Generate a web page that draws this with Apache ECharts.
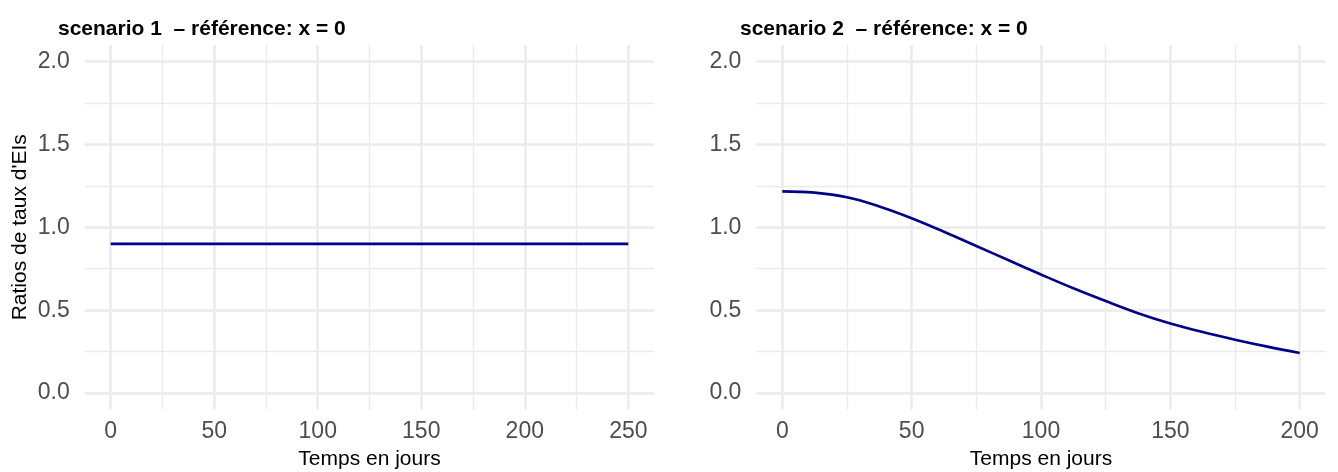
<!DOCTYPE html>
<html>
<head>
<meta charset="utf-8">
<script src="https://cdn.jsdelivr.net/npm/echarts@6/dist/echarts.min.js"></script>
<style>
  html, body { margin: 0; padding: 0; background: #ffffff; }
  #chart { width: 1338px; height: 472px; }
</style>
</head>
<body>
<div id="chart"></div>
<script>
// Scenario 1: constant ratio over 250 days
const days1 = [0, 50, 100, 150, 200, 250];
const ratio1 = [0.9, 0.9, 0.9, 0.9, 0.9, 0.9];

// Scenario 2: decreasing ratio over 200 days
const days2 = [0, 12.5, 25, 37.5, 50, 62.5, 75, 87.5, 100, 112.5, 125, 137.5, 150, 162.5, 175, 187.5, 200];
const ratio2 = [1.217, 1.209, 1.181, 1.126, 1.055, 0.973, 0.887, 0.801, 0.715, 0.632, 0.555, 0.482, 0.420, 0.368, 0.322, 0.280, 0.242];

// Tick values
const xMajor1 = [0, 50, 100, 150, 200, 250];
const xMinor1 = [25, 75, 125, 175, 225];
const xMajor2 = [0, 50, 100, 150, 200];
const xMinor2 = [25, 75, 125, 175];
const yMajor = [0, 0.5, 1.0, 1.5, 2.0];
const yMinor = [0.25, 0.75, 1.25, 1.75];

const panelTitles = ['scenario 1  \u2013 r\u00e9f\u00e9rence: x = 0', 'scenario 2  \u2013 r\u00e9f\u00e9rence: x = 0'];
const xTitle = 'Temps en jours';
const yTitle = "Ratios de taux d'EIs";

const FONT = '"Liberation Sans", Arial, Helvetica, sans-serif';
const GRID_COLOR = '#EBEBEB';
const LINE_COLOR = '#00008B';
const TICK_COLOR = '#4D4D4D';

const yMin = -0.1, yMax = 2.1;

function xAxesFor(gridIndex, dataMax, major, minor) {
  const pad = dataMax * 0.05;
  return [
    {
      type: 'value', gridIndex: gridIndex, min: -pad, max: dataMax + pad, position: 'bottom',
      axisLine: { show: false },
      axisTick: { show: false, customValues: major },
      axisLabel: { customValues: major, color: TICK_COLOR, fontFamily: FONT, fontSize: 23, margin: 11 },
      splitLine: { show: true, lineStyle: { color: GRID_COLOR, width: 2.5 } },
      name: xTitle, nameLocation: 'middle', nameGap: 36,
      nameTextStyle: { color: '#000000', fontFamily: FONT, fontSize: 21 }
    },
    {
      type: 'value', gridIndex: gridIndex, min: -pad, max: dataMax + pad, position: 'top',
      axisLine: { show: false },
      axisTick: { show: false, customValues: minor },
      axisLabel: { show: false, customValues: minor },
      splitLine: { show: true, lineStyle: { color: GRID_COLOR, width: 1.4 } }
    }
  ];
}

function yAxesFor(gridIndex, withName) {
  const main = {
    type: 'value', gridIndex: gridIndex, min: yMin, max: yMax, position: 'left',
    axisLine: { show: false },
    axisTick: { show: false, customValues: yMajor },
    axisLabel: {
      customValues: yMajor, color: TICK_COLOR, fontFamily: FONT, fontSize: 23, margin: 15,
      formatter: function (v) { return v.toFixed(1); }
    },
    splitLine: { show: true, lineStyle: { color: GRID_COLOR, width: 2.5 } }
  };
  if (withName) {
    main.name = yTitle;
    main.nameLocation = 'middle';
    main.nameGap = 54;
    main.nameTextStyle = { color: '#000000', fontFamily: FONT, fontSize: 21 };
  }
  return [
    main,
    {
      type: 'value', gridIndex: gridIndex, min: yMin, max: yMax, position: 'right',
      axisLine: { show: false },
      axisTick: { show: false, customValues: yMinor },
      axisLabel: { show: false, customValues: yMinor },
      splitLine: { show: true, lineStyle: { color: GRID_COLOR, width: 1.4 } }
    }
  ];
}

const chart = echarts.init(document.getElementById('chart'), null, { renderer: 'canvas' });

chart.setOption({
  animation: false,
  backgroundColor: '#ffffff',
  title: [
    { text: panelTitles[0], left: 53, top: 14,
      textStyle: { fontFamily: FONT, fontSize: 21, fontWeight: 'bold', color: '#000000' } },
    { text: panelTitles[1], left: 735, top: 14,
      textStyle: { fontFamily: FONT, fontSize: 21, fontWeight: 'bold', color: '#000000' } }
  ],
  grid: [
    { left: 84.8, top: 45, width: 569.4, height: 364.6, outerBoundsMode: 'none' },
    { left: 756.4, top: 45, width: 569.2, height: 364.6, outerBoundsMode: 'none' }
  ],
  xAxis: [].concat(xAxesFor(0, 250, xMajor1, xMinor1), xAxesFor(1, 200, xMajor2, xMinor2)),
  yAxis: [].concat(yAxesFor(0, true), yAxesFor(1, false)),
  series: [
    {
      type: 'line', xAxisIndex: 0, yAxisIndex: 0,
      data: days1.map(function (d, i) { return [d, ratio1[i]]; }),
      showSymbol: false, silent: true,
      lineStyle: { color: LINE_COLOR, width: 2.6 }
    },
    {
      type: 'line', xAxisIndex: 2, yAxisIndex: 2,
      data: days2.map(function (d, i) { return [d, ratio2[i]]; }),
      showSymbol: false, silent: true, smooth: 0.4,
      lineStyle: { color: LINE_COLOR, width: 2.6 }
    }
  ]
});
</script>
</body>
</html>
